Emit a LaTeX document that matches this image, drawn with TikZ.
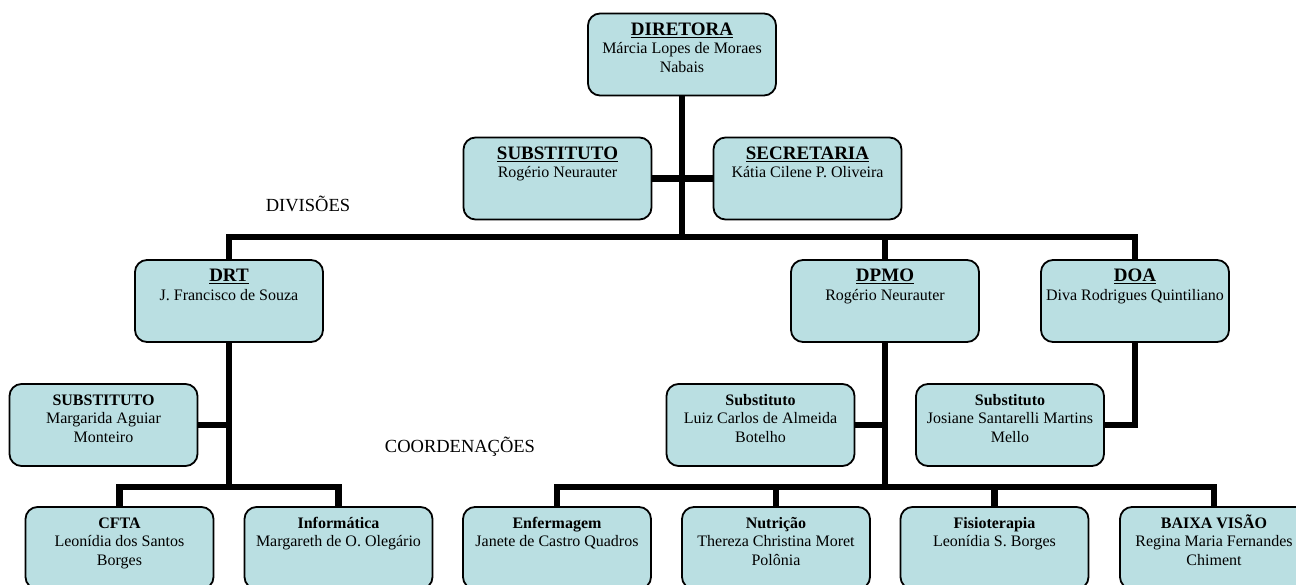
\documentclass[tikz,border=0pt]{standalone}
\usepackage{fontspec}
\setmainfont{Liberation Serif}
\definecolor{boxfill}{RGB}{186,223,226}
\newcommand{\bxA}[2]{\parbox[c][82pt][t]{188pt}{\centering\fontsize{16}{18.5}\selectfont\rule{0pt}{22pt}{\fontsize{19}{18.5}\selectfont\bfseries\underline{#1}}\\#2}}
\newcommand{\bxB}[2]{\parbox[c][82pt][t]{188pt}{\centering\fontsize{16}{18.5}\selectfont\rule{0pt}{21pt}{\bfseries #1}\\#2}}
\tikzset{
  orgbox/.style={draw=black, line width=1.8pt, fill=boxfill, rounded corners=12pt, inner sep=0pt, minimum width=188pt, minimum height=82pt},
  conn/.style={line width=6.5pt, line join=miter, line cap=butt},
  lbl/.style={font=\fontsize{18.5}{20}\selectfont, inner sep=0pt}
}
\begin{document}
\begin{tikzpicture}[x=1pt,y=-1pt]
\useasboundingbox (0,0) rectangle (1296,585);
\clip (0,0) rectangle (1296,585);
\fill[white] (0,0) rectangle (1296,585);
% boxes
\node[orgbox] (dir) at (682,54.5) {\bxA{DIRETORA}{Márcia Lopes de Moraes\\Nabais}};
\node[orgbox] (sub1) at (557.5,178.5) {\bxA{SUBSTITUTO}{Rogério Neurauter}};
\node[orgbox] (sec) at (807.5,178.5) {\bxA{SECRETARIA}{Kátia Cilene P. Oliveira}};
\node[orgbox] (drt) at (229,301) {\bxA{DRT}{J. Francisco de Souza}};
\node[orgbox] (dpmo) at (885,301) {\bxA{DPMO}{Rogério Neurauter}};
\node[orgbox] (doa) at (1135,301) {\bxA{DOA}{Diva Rodrigues Quintiliano}};
\node[orgbox] (sdrt) at (103.5,425) {\bxB{SUBSTITUTO}{Margarida Aguiar\\Monteiro}};
\node[orgbox] (luiz) at (760.5,425) {\bxB{Substituto}{Luiz Carlos de Almeida\\Botelho}};
\node[orgbox] (jos) at (1010,425) {\bxB{Substituto}{Josiane Santarelli Martins\\Mello}};
\node[orgbox] (cfta) at (119.5,548) {\bxB{CFTA}{Leonídia dos Santos\\Borges}};
\node[orgbox] (info) at (338.5,548) {\bxB{Informática}{Margareth de O. Olegário}};
\node[orgbox] (enf) at (557,548) {\bxB{Enfermagem}{Janete de Castro Quadros}};
\node[orgbox] (nut) at (776,548) {\bxB{Nutrição}{Thereza Christina Moret\\Polônia}};
\node[orgbox] (fis) at (994.5,548) {\bxB{Fisioterapia}{Leonídia S. Borges}};
\node[orgbox] (bv) at (1214,548) {\bxB{BAIXA VISÃO}{Regina Maria Fernandes\\Chiment}};
% labels
\node[lbl] (ldiv) at (308,204) {DIVISÕES};
\node[lbl] (lcoord) at (460,447) {COORDENAÇÕES};
% junctions
\coordinate (j1) at (682,237);
\coordinate (j2) at (229,487);
\coordinate (j3) at (885,487);
% connectors
\draw[conn] (dir.south) -- (j1);
\draw[conn] (sub1.east) -- (sub1.east -| j1);
\draw[conn] (sec.west) -- (sec.west -| j1);
\draw[conn] (drt.north) |- (j1) -| (doa.north);
\draw[conn] (dpmo.north) -- (dpmo.north |- j1);
\draw[conn] (drt.south) -- (j2);
\draw[conn] (sdrt.east) -- (sdrt.east -| j2);
\draw[conn] (cfta.north) |- (j2) -| (info.north);
\draw[conn] (dpmo.south) -- (j3);
\draw[conn] (luiz.east) -- (luiz.east -| j3);
\draw[conn] (enf.north) |- (j3) -| (bv.north);
\draw[conn] (nut.north) -- (nut.north |- j3);
\draw[conn] (fis.north) -- (fis.north |- j3);
\draw[conn] (doa.south) |- (jos.east);
\end{tikzpicture}
\end{document}
